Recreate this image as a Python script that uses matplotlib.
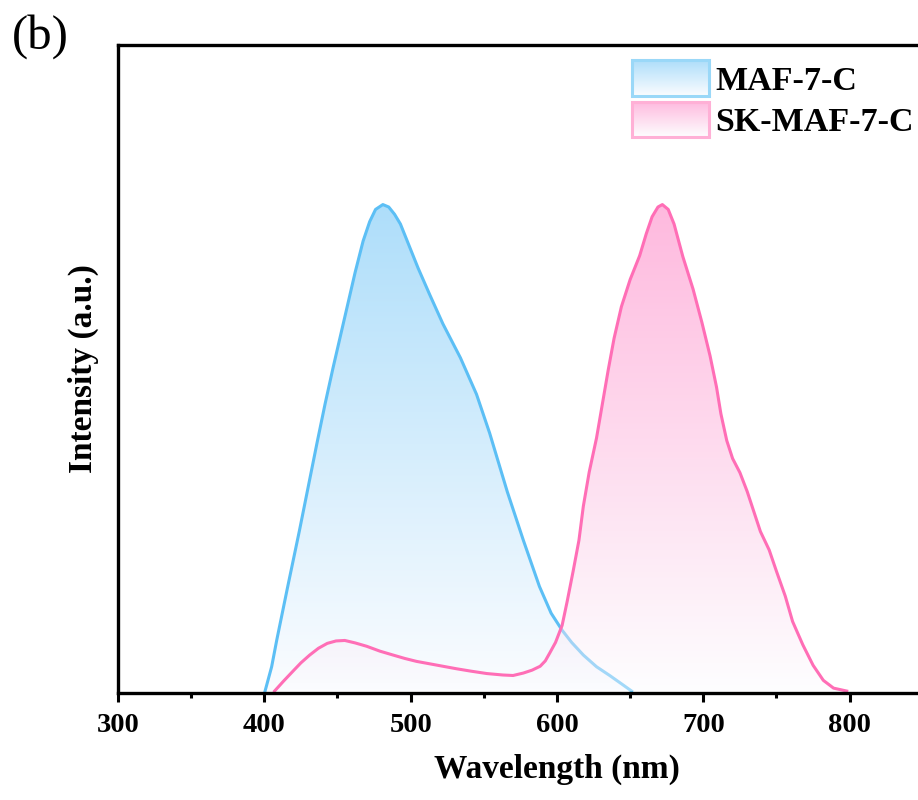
import numpy as np
import matplotlib
matplotlib.use("Agg")
import matplotlib.pyplot as plt
from matplotlib.image import BboxImage
from matplotlib.legend_handler import HandlerBase
from matplotlib.patches import Rectangle
from matplotlib.transforms import Bbox, TransformedBbox

plt.rcParams['font.family'] = ['Liberation Serif', 'DejaVu Serif']

# PL spectra, normalised intensity
wl_maf = [400.5, 405, 408.5, 416, 424, 431, 436, 441.5, 447, 452, 457, 462,
          467.5, 472, 476, 481, 485, 489, 493, 497, 505, 513, 522, 534, 545,
          554, 560, 566, 577, 588, 596, 603.5, 610, 618, 627, 636, 644, 651]
int_maf = [0, 0.05, 0.105, 0.215, 0.33, 0.435, 0.51, 0.59, 0.665, 0.73, 0.795,
           0.86, 0.925, 0.965, 0.99, 1.0, 0.995, 0.98, 0.96, 0.93, 0.87, 0.815,
           0.755, 0.685, 0.61, 0.53, 0.47, 0.41, 0.31, 0.215, 0.16, 0.125, 0.1,
           0.074, 0.05, 0.032, 0.015, 0]

wl_sk = [407, 413, 419.6, 425, 431, 437, 443, 449, 455, 462, 470, 479, 488,
         496, 504, 513, 522, 531, 541, 552, 563, 570, 577, 583, 588.5, 592,
         595, 599, 603.5, 607, 611, 615, 618, 622, 627, 631, 635, 639, 644,
         650, 656.5, 661, 665, 669, 672, 676, 680, 686, 693, 699, 704.6, 709,
         712, 716, 720, 725, 730, 739, 745, 750, 756, 761, 768, 775, 782, 789, 798]
int_sk = [0, 0.02, 0.041, 0.058, 0.074, 0.088, 0.098, 0.103, 0.104, 0.099,
          0.092, 0.082, 0.074, 0.067, 0.061, 0.056, 0.051, 0.046, 0.041, 0.036,
          0.033, 0.032, 0.037, 0.043, 0.051, 0.062, 0.078, 0.1, 0.135, 0.185,
          0.246, 0.31, 0.38, 0.45, 0.52, 0.59, 0.66, 0.725, 0.79, 0.846, 0.895,
          0.94, 0.975, 0.995, 1.0, 0.99, 0.96, 0.893, 0.826, 0.758, 0.689,
          0.625, 0.57, 0.515, 0.478, 0.449, 0.41, 0.328, 0.29, 0.246, 0.195,
          0.143, 0.095, 0.053, 0.022, 0.006, 0]

labels = ['MAF-7-C', 'SK-MAF-7-C']
line_colors = ['#5cbff5', '#ff6eb6']
top_colors = [(174, 222, 250), (255, 99, 182)]
fill_alpha = [1.0, 0.45]
edge_colors = ['#9ad8f8', '#ffb0d6']


def gradient_rgba(top_rgb, alpha, n=256):
    t = np.linspace(0, 1, n)[:, None]
    top = np.array(top_rgb) / 255.0
    rgb = (1 - t) * np.array([0.985, 0.99, 1.0]) + t * top
    rgba = np.concatenate([rgb, np.full((n, 1), alpha)], axis=1)
    return rgba[:, None, :]


def gradient_fill(ax, x, y, top_rgb, alpha, zorder):
    x = np.asarray(x)
    y = np.asarray(y)
    poly = ax.fill_between(x, y, 0, facecolor='none', edgecolor='none')
    img = ax.imshow(gradient_rgba(top_rgb, alpha), origin='lower', aspect='auto',
                    extent=[x.min(), x.max(), 0, y.max()],
                    interpolation='bilinear', zorder=zorder)
    img.set_clip_path(poly.get_paths()[0], ax.transData)


class GradientHandler(HandlerBase):
    def __init__(self, top_rgb, alpha, edge):
        super().__init__()
        self.top_rgb = top_rgb
        self.alpha = alpha
        self.edge = edge

    def create_artists(self, legend, orig_handle, xdescent, ydescent,
                       width, height, fontsize, trans):
        bb = TransformedBbox(Bbox.from_bounds(-xdescent, -ydescent, width, height), trans)
        img = BboxImage(bb, interpolation='bilinear')
        img.set_data(gradient_rgba(self.top_rgb, self.alpha)[::-1])
        rect = Rectangle((-xdescent, -ydescent), width, height, facecolor='none',
                         edgecolor=self.edge, linewidth=2.2, transform=trans)
        return [img, rect]


fig = plt.figure(figsize=(9.18, 8), dpi=100)
# right part of the frame runs past the figure edge
ax = fig.add_axes([118 / 918, 107 / 800, 878 / 918, 648 / 800])

gradient_fill(ax, wl_maf, int_maf, top_colors[0], fill_alpha[0], 1)
ax.plot(wl_maf, int_maf, color=line_colors[0], lw=2.2, zorder=2)
gradient_fill(ax, wl_sk, int_sk, top_colors[1], fill_alpha[1], 3)
ax.plot(wl_sk, int_sk, color=line_colors[1], lw=2.2, zorder=4)

ax.set_xlim(300, 900)
ax.set_ylim(-0.004, 1.328)
ax.set_xticks([300, 400, 500, 600, 700, 800])
ax.set_xticks(np.arange(350, 900, 100), minor=True)
ax.set_yticks([])
for s in ax.spines.values():
    s.set_linewidth(2.4)
    s.set_zorder(6)
ax.tick_params(axis='x', which='major', direction='out', length=6.5, width=2.2,
               labelsize=20.5, pad=8)
ax.tick_params(axis='x', which='minor', direction='out', length=3.5, width=2.2)
for lb in ax.get_xticklabels():
    lb.set_fontweight('bold')

ax.set_xlabel('Wavelength (nm)', fontsize=24, fontweight='bold', labelpad=11)
ax.set_ylabel('Intensity (a.u.)', fontsize=24, fontweight='bold', labelpad=14)

h1 = Rectangle((0, 0), 1, 1)
h2 = Rectangle((0, 0), 1, 1)
leg = ax.legend([h1, h2], labels, loc='upper left',
                bbox_to_anchor=(605 / 918, 1 - 33 / 800), bbox_transform=fig.transFigure,
                frameon=False, prop={'size': 24.5, 'weight': 'bold'},
                handlelength=2.25, handleheight=1.24, handletextpad=0.2,
                labelspacing=0.15, borderpad=0.3,
                handler_map={h1: GradientHandler(top_colors[0], fill_alpha[0], edge_colors[0]),
                             h2: GradientHandler(top_colors[1], fill_alpha[1], edge_colors[1])})
leg.set_zorder(7)

fig.text(12 / 918, 1 - 14 / 800, '(b)', fontsize=35, va='top', ha='left')

fig.savefig('out.png', dpi=100)
